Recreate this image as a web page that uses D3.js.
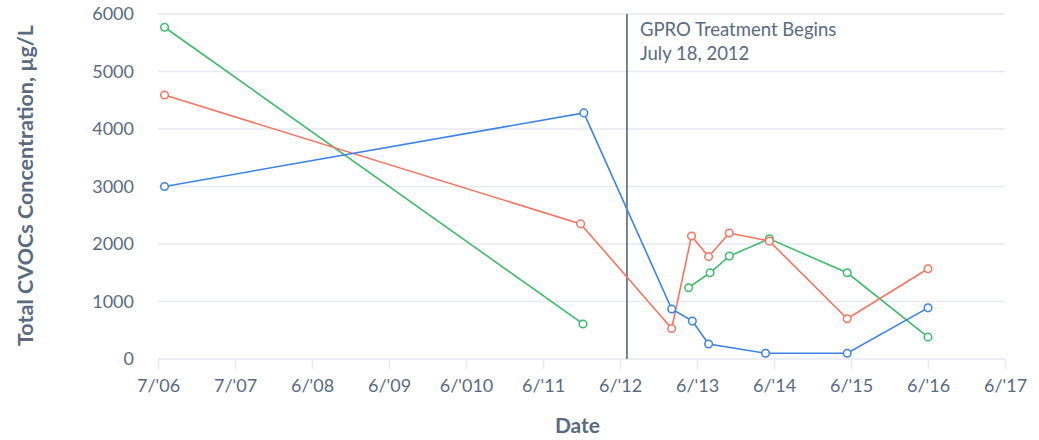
<!DOCTYPE html>
<html>
<head>
<meta charset="utf-8">
<script src="https://cdn.jsdelivr.net/npm/d3@7"></script>
<style>
  body { margin: 0; background: #fff; }
  text { font-family: Lato, "Noto Sans", sans-serif; }
</style>
</head>
<body>
<div id="chart"></div>
<script>
// x axis ticks (evenly spaced on the chart)
var tickDates = ["2006-07-15","2007-07-15","2008-06-15","2009-06-15","2010-06-15","2011-06-15",
                 "2012-06-15","2013-06-15","2014-06-15","2015-06-15","2016-06-15","2017-06-15"];
var tickLabels = ["7/'06","7/'07","6/'08","6/'09","6/'010","6/'11","6/'12","6/'13","6/'14","6/'15","6/'16","6/'17"];
var yTicks = [0, 1000, 2000, 3000, 4000, 5000, 6000];

// series (sample date, total CVOCs ug/L); null = break in the line
var blueDates  = ["2006-08-15","2011-12-26","2013-02-15","2013-05-24","2013-08-09","2014-05-06","2015-05-28","2016-06-15"];
var blueValues = [3000, 4280, 870, 660, 260, 100, 100, 890];
var redDates   = ["2006-08-15","2011-12-11","2013-02-15","2013-05-20","2013-08-09","2013-11-15","2014-05-24","2015-05-28","2016-06-15"];
var redValues  = [4590, 2350, 530, 2140, 1780, 2190, 2050, 700, 1570];
var greenDates  = ["2006-08-15","2011-12-22","2012-09-01","2013-05-06","2013-08-16","2013-11-15","2014-05-24","2015-05-28","2016-06-15"];
var greenValues = [5770, 610, null, 1240, 1500, 1790, 2090, 1500, 380];

var treatmentDate = "2012-07-18";
var annotLines = ["GPRO Treatment Begins", "July 18, 2012"];

var margin = {top: 14, right: 34, bottom: 81, left: 158},
    width = 1039,
    height = 440,
    innerW = width - margin.left - margin.right,
    innerH = height - margin.top - margin.bottom;

var textColor = "#5a6a7f";
var gridColor = "#e6e9ef";
var parse = d3.timeParse("%Y-%m-%d");

var svg = d3.select("#chart").append("svg")
    .attr("width", width)
    .attr("height", height);

var g = svg.append("g")
    .attr("transform", "translate(" + margin.left + "," + margin.top + ")");

// piecewise time scale so the labelled ticks sit evenly apart
var tDates = tickDates.map(parse);
var x = d3.scaleTime()
    .domain(tDates)
    .range(tDates.map(function(d, i) { return i * innerW / (tDates.length - 1); }));

var y = d3.scaleLinear().domain([0, 6000]).range([innerH, 0]);

// horizontal grid
g.selectAll(".grid")
    .data(yTicks)
  .enter().append("line")
    .attr("class", "grid")
    .attr("x1", 0)
    .attr("x2", innerW)
    .attr("y1", function(d) { return y(d); })
    .attr("y2", function(d) { return y(d); })
    .attr("stroke", gridColor)
    .attr("stroke-width", 1.5);

// y axis labels
var yAxis = g.append("g")
    .call(d3.axisLeft(y).tickValues(yTicks).tickFormat(d3.format("d")).tickSize(0).tickPadding(24));
yAxis.select(".domain").remove();
yAxis.selectAll("text")
    .attr("font-size", "18px")
    .attr("fill", textColor)
    .style("font-family", "Lato, sans-serif");

// x axis
var xAxis = g.append("g")
    .attr("transform", "translate(0," + innerH + ")")
    .call(d3.axisBottom(x)
      .tickValues(tDates)
      .tickFormat(function(d, i) { return tickLabels[i]; })
      .tickSize(10)
      .tickSizeOuter(0)
      .tickPadding(10));
xAxis.select(".domain").remove();
xAxis.selectAll(".tick line").attr("stroke", gridColor).attr("stroke-width", 1.5);
xAxis.selectAll("text")
    .attr("font-size", "18px")
    .attr("fill", textColor)
    .style("font-family", "Lato, sans-serif");

// treatment line + note
var tx = x(parse(treatmentDate));
g.append("line")
    .attr("x1", tx).attr("x2", tx)
    .attr("y1", 0).attr("y2", innerH)
    .attr("stroke", "#4f5b70")
    .attr("stroke-width", 1.5);

g.selectAll(".annot")
    .data(annotLines)
  .enter().append("text")
    .attr("class", "annot")
    .attr("x", tx + 13)
    .attr("y", function(d, i) { return 22 + i * 24; })
    .attr("font-size", "18.5px")
    .attr("fill", textColor)
    .text(function(d) { return d; });

// series
var series = [
  {dates: greenDates, values: greenValues, color: "#3dba6c"},
  {dates: redDates, values: redValues, color: "#f7735f"},
  {dates: blueDates, values: blueValues, color: "#3b82e8"}
];

var line = d3.line()
    .defined(function(d) { return d.value != null; })
    .x(function(d) { return x(d.date); })
    .y(function(d) { return y(d.value); });

series.forEach(function(s) {
  var pts = s.dates.map(function(d, i) { return {date: parse(d), value: s.values[i]}; });
  g.append("path")
      .datum(pts)
      .attr("fill", "none")
      .attr("stroke", s.color)
      .attr("stroke-width", 1.6)
      .attr("d", line);
  g.selectAll(null)
      .data(pts.filter(function(d) { return d.value != null; }))
    .enter().append("circle")
      .attr("cx", function(d) { return x(d.date); })
      .attr("cy", function(d) { return y(d.value); })
      .attr("r", 3.8)
      .attr("fill", "#fff")
      .attr("stroke", s.color)
      .attr("stroke-width", 1.5);
});

// axis titles
svg.append("text")
    .attr("x", margin.left + innerW / 2 - 4)
    .attr("y", 433)
    .attr("text-anchor", "middle")
    .attr("font-size", "21px")
    .attr("font-weight", "bold")
    .attr("fill", textColor)
    .text("Date");

svg.append("text")
    .attr("transform", "translate(33," + (margin.top + innerH / 2 - 1) + ")rotate(-90)")
    .attr("text-anchor", "middle")
    .attr("font-size", "21.5px")
    .attr("font-weight", "bold")
    .attr("fill", textColor)
    .text("Total CVOCs Concentration, µg/L");
</script>
</body>
</html>
